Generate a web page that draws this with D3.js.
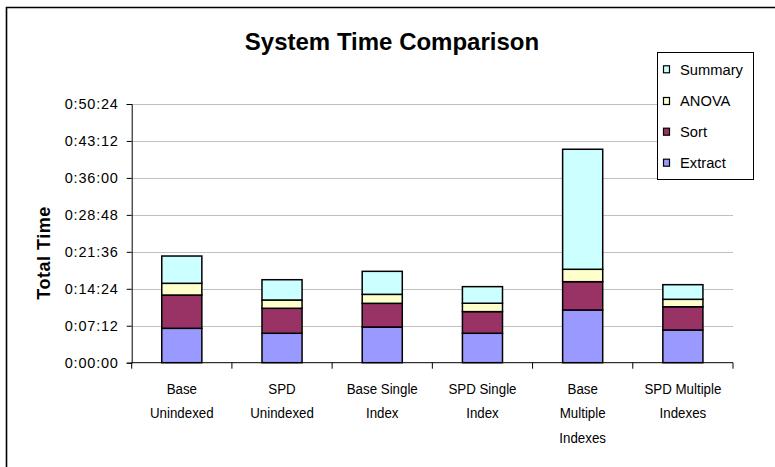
<!DOCTYPE html>
<html>
<head>
<meta charset="utf-8">
<script src="https://cdn.jsdelivr.net/npm/d3@7"></script>
<style>
  body { margin: 0; background: white; }
  text { font-family: Arial, "Liberation Sans", sans-serif; }
</style>
</head>
<body>
<div id="chart"></div>
<script>
// data (seconds)
const categories = [
    ["Base", "Unindexed"],
    ["SPD", "Unindexed"],
    ["Base Single", "Index"],
    ["SPD Single", "Index"],
    ["Base", "Multiple", "Indexes"],
    ["SPD Multiple", "Indexes"]
];
const seriesNames = ["Extract", "Sort", "ANOVA", "Summary"];
const extract = [402, 344, 417, 344, 616, 382];
const sortT = [389, 292, 277, 253, 331, 272];
const anova = [137, 97, 105, 98, 145, 87];
const summary = [319, 237, 269, 194, 1403, 171];
const colors = ["#9999ff", "#993366", "#ffffcc", "#ccffff"];
const yTicks = [0, 432, 864, 1296, 1728, 2160, 2592, 3024];

const width = 775;
const height = 467;
const margin = {t: 104, b: 104.3, l: 131.7, r: 42};

const svg = d3.select("#chart")
    .append("svg")
    .attr("width", width)
    .attr("height", height);

//outer border (runs off right and bottom)
svg.append("path")
    .attr("d", `M6.5,${height + 2}V7.5H${width + 2}`)
    .attr("fill", "none")
    .attr("stroke", "black")
    .attr("stroke-width", 1.6);

//Title
svg.append("text")
    .attr("x", 392)
    .attr("y", 49.5)
    .attr("text-anchor", "middle")
    .attr("font-size", "24px")
    .attr("font-weight", "bold")
    .text("System Time Comparison");

const xScale = d3.scaleBand()
    .domain(d3.range(categories.length))
    .range([margin.l, width - margin.r])
    .paddingInner(0.6)
    .paddingOuter(0.3);

const yScale = d3.scaleLinear()
    .domain([0, 3024])
    .range([height - margin.b, margin.t]);

function fmt(s) {
    const h = Math.floor(s / 3600);
    const m = Math.floor((s % 3600) / 60);
    const sec = s % 60;
    return h + ":" + String(m).padStart(2, "0") + ":" + String(sec).padStart(2, "0");
}

//gridlines
svg.append("g")
    .selectAll("line")
    .data(yTicks.filter(d => d > 0))
    .join("line")
    .attr("x1", margin.l)
    .attr("x2", width - margin.r)
    .attr("y1", d => Math.round(yScale(d)) + 0.5)
    .attr("y2", d => Math.round(yScale(d)) + 0.5)
    .attr("stroke", "#c0c0c0")
    .attr("stroke-width", 1);

//Yaxis
const y_axis = d3.axisLeft(yScale)
    .tickValues(yTicks)
    .tickFormat(fmt)
    .tickSize(5)
    .tickPadding(8);
const yg = svg.append("g")
    .attr("transform", `translate(${margin.l}, 0)`)
    .call(y_axis);
yg.select(".domain").attr("stroke", "black");
yg.selectAll(".tick line").attr("stroke", "black");
yg.selectAll(".tick text")
    .attr("font-size", "14.5px")
    .attr("letter-spacing", "0.8px")
    .attr("fill", "black")
    .style("font-family", "Arial, 'Liberation Sans', sans-serif");

svg.append("text")
    .attr("transform", "rotate(-90)")
    .attr("x", -253)
    .attr("y", 50)
    .attr("text-anchor", "middle")
    .attr("font-size", "18px")
    .attr("font-weight", "bold")
    .attr("letter-spacing", "0.5px")
    .text("Total Time");

//stacked bars
const rows = categories.map((c, i) => ({
    i: i, Extract: extract[i], Sort: sortT[i], ANOVA: anova[i], Summary: summary[i]
}));
const stacked = d3.stack().keys(seriesNames)(rows);

svg.append("g")
    .selectAll("g")
    .data(stacked)
    .join("g")
    .attr("fill", (d, k) => colors[k])
    .selectAll("rect")
    .data(d => d)
    .join("rect")
    .attr("x", d => xScale(d.data.i))
    .attr("y", d => yScale(d[1]))
    .attr("width", xScale.bandwidth())
    .attr("height", d => yScale(d[0]) - yScale(d[1]))
    .attr("stroke", "black")
    .attr("stroke-width", 1.5);

//Xaxis
const baseY = height - margin.b;
svg.append("line")
    .attr("x1", margin.l)
    .attr("x2", width - margin.r)
    .attr("y1", baseY)
    .attr("y2", baseY)
    .attr("stroke", "black");
const step = xScale.step();
svg.append("g")
    .selectAll("line")
    .data(d3.range(categories.length + 1))
    .join("line")
    .attr("x1", d => margin.l + d * step)
    .attr("x2", d => margin.l + d * step)
    .attr("y1", baseY)
    .attr("y2", baseY + 6)
    .attr("stroke", "black");

const xl = svg.append("g")
    .selectAll("text")
    .data(categories)
    .join("text")
    .attr("text-anchor", "middle")
    .attr("font-size", "15.5px")
    .attr("transform", (d, i) => `translate(${xScale(i) + xScale.bandwidth() / 2}, 394) scale(0.86,1)`);
xl.selectAll("tspan")
    .data(d => d)
    .join("tspan")
    .attr("x", 0)
    .attr("y", (d, k) => k * 24.5)
    .text(d => d);

//Legend
const legend = svg.append("g");
legend.append("rect")
    .attr("x", 657.5)
    .attr("y", 52.5)
    .attr("width", 96)
    .attr("height", 127)
    .attr("fill", "white")
    .attr("stroke", "black");
const legendOrder = [3, 2, 1, 0];
const legendY = [69.3, 101, 131.7, 162.7];
legendOrder.forEach((k, j) => {
    legend.append("rect")
        .attr("x", 663.5)
        .attr("y", legendY[j] - 3.5)
        .attr("width", 6)
        .attr("height", 7)
        .attr("fill", colors[k])
        .attr("stroke", "black")
        .attr("stroke-width", 1.2);
    legend.append("text")
        .attr("x", 680)
        .attr("y", legendY[j] + 5.5)
        .attr("font-size", "15.5px")
        .attr("transform", `translate(680,0) scale(0.95,1) translate(-680,0)`)
        .text(seriesNames[k]);
});
</script>
</body>
</html>
